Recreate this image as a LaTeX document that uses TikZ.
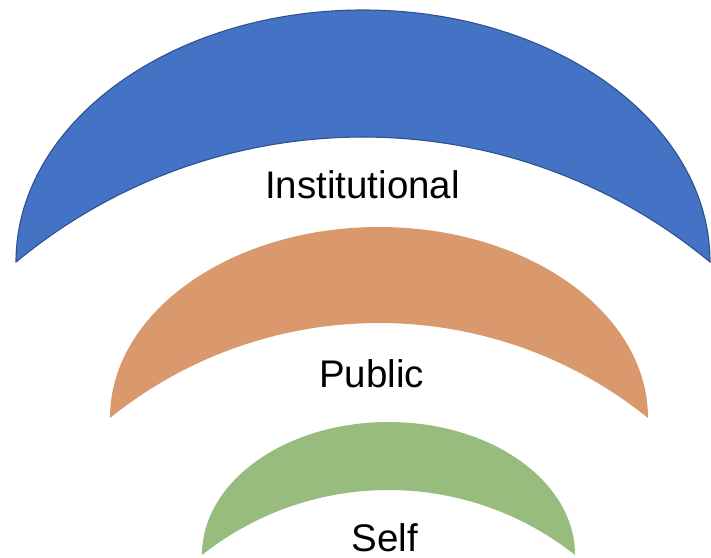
\documentclass[tikz,border=0pt]{standalone}
\usepackage{fontspec}
\setmainfont{Liberation Sans}
\definecolor{bluefill}{HTML}{4472C4}
\definecolor{blueline}{HTML}{2F528F}
\definecolor{orangefill}{HTML}{D9996D}
\definecolor{greenfill}{HTML}{98BB7E}
% \moonarc{style}{cx}{tipy}{halfwidth}{outer height}{inner sag}
\newcommand{\moonarc}[6]{%
  \pgfmathsetmacro{\mR}{(#4)*((#4)/(2*(#6)))+(#6)/2}%
  \pgfmathsetmacro{\mA}{atan2(-(\mR-(#6)),#4)}%
  \pgfmathsetmacro{\mB}{-180-\mA}%
  \path[#1] (#2-#4,#3) arc[start angle=180,end angle=360,x radius=#4,y radius=#5]
    arc[start angle=\mA,end angle=\mB,radius=\mR] -- cycle;}
\tikzset{
  bluearc/.style={fill=bluefill,draw=blueline,line width=1.1pt},
  orangearc/.style={fill=orangefill},
  greenarc/.style={fill=greenfill},
  label/.style={font=\fontsize{38.5}{42}\selectfont,anchor=base,inner sep=0pt}
}
\begin{document}
\begin{tikzpicture}[x=1pt,y=-1pt]
\useasboundingbox (0,0) rectangle (711,557);
\begin{scope}
\clip (0,0) rectangle (711,557);
\moonarc{bluearc}{363}{262}{347}{252}{125}
\moonarc{orangearc}{379}{418}{269}{191}{95}
\moonarc{greenarc}{388.5}{555}{186.5}{133}{65}
\end{scope}
\node[label] (inst) at (362.5,198) {Institutional};
\node[label] (pub) at (371.5,387) {Public};
\node[label] (self) at (385,551) {Self};
\end{tikzpicture}
\end{document}
